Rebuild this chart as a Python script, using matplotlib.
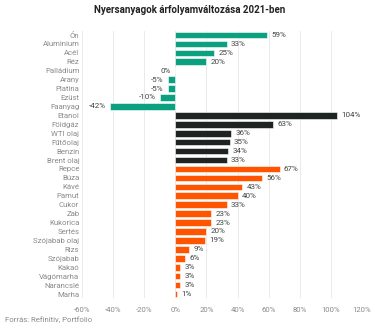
import matplotlib.pyplot as plt
import numpy as np

plt.rcParams['font.family'] = ['Roboto', 'DejaVu Sans']

# data
categories = ["Ón", "Aluminium", "Acél", "Réz", "Palládium", "Arany", "Platina", "Ezüst", "Faanyag",
              "Etanol", "Földgáz", "WTI olaj", "Fűtőolaj", "Benzin", "Brent olaj",
              "Repce", "Búza", "Kávé", "Pamut", "Cukor", "Zab", "Kukorica", "Sertés",
              "Szójabab olaj", "Rizs", "Szójabab", "Kakaó", "Vágómarha", "Narancslé", "Marha"]
values = [59, 33, 25, 20, -0.4, -5, -5, -10, -42,
          104, 63, 36, 35, 34, 33,
          67, 56, 43, 40, 33, 23, 23, 20, 19, 9, 6, 3, 3, 3, 1]
labels = ["59%", "33%", "25%", "20%", "0%", "-5%", "-5%", "-10%", "-42%",
          "104%", "63%", "36%", "35%", "34%", "33%",
          "67%", "56%", "43%", "40%", "33%", "23%", "23%", "20%", "19%", "9%", "6%", "3%", "3%", "3%", "1%"]
groups = [0] * 9 + [1] * 6 + [2] * 15
group_colors = ["#0ba07f", "#1d2422", "#ff5500"]

fig = plt.figure(figsize=(3.75, 3.28), dpi=100)
ax = fig.add_axes([0.219, 0.09, 0.746, 0.817])

y = np.arange(len(categories))
colors = [group_colors[g] for g in groups]
ax.barh(y, values, height=0.74, color=colors, edgecolor='white', linewidth=0.4, zorder=2)

for yi, v, lab in zip(y, values, labels):
    if v >= 0:
        ax.text(v + 2.8, yi, lab, va='center', ha='left', fontsize=5.8, color='#444444')
    else:
        ax.text(v - 2.8, yi, lab, va='center', ha='right', fontsize=5.8, color='#444444')

ax.set_xlim(-60, 120)
ax.set_ylim(len(categories) - 0.5, -0.5)
ax.set_xticks(np.arange(-60, 121, 20))
ax.set_xticklabels([f"{t}%" for t in range(-60, 121, 20)])
ax.set_yticks(y)
ax.set_yticklabels(categories)
ax.tick_params(axis='both', length=0, labelsize=5.6, labelcolor='#8a8a8a')
ax.tick_params(axis='y', pad=2)
ax.tick_params(axis='x', pad=6)
ax.grid(axis='x', color='#e6e6e6', linewidth=0.6, zorder=0)
for s in ax.spines.values():
    s.set_visible(False)

fig.text(0.507, 0.968, "Nyersanyagok árfolyamváltozása 2021-ben", ha='center', va='center',
         fontsize=7, fontweight='bold', color='#222222')
fig.text(0.013, 0.024, "Forrás: Refinitiv, Portfolio", ha='left', va='center',
         fontsize=5.6, color='#8a8a8a')

fig.savefig("out.png", dpi=100)
